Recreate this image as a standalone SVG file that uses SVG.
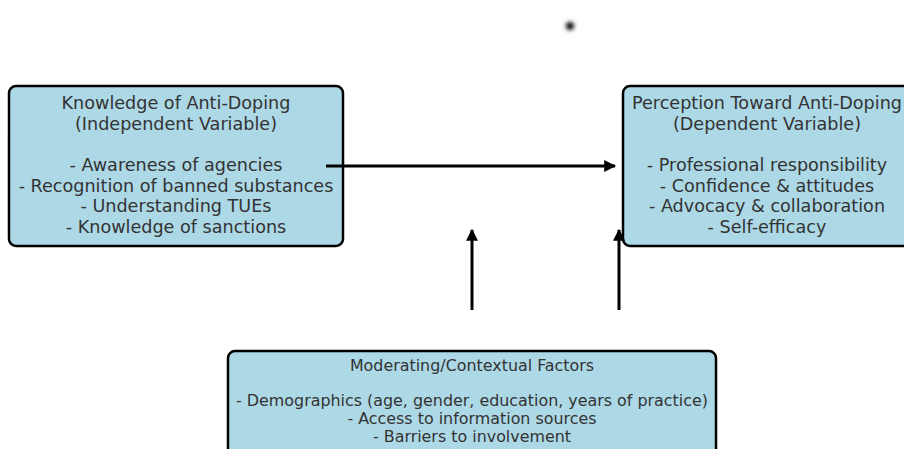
<svg xmlns="http://www.w3.org/2000/svg" width="904" height="449" viewBox="0 0 904 449">
<defs>
<style>
.box{fill:#add8e6;stroke:#000;stroke-width:2.5}
.t{font-family:"DejaVu Sans",sans-serif;fill:#333;text-anchor:middle}
.big{font-size:17.6px}
.small{font-size:15.9px}
.conn{stroke:#000;stroke-width:3;fill:none}
</style>
<marker id="ah" viewBox="0 0 10 10" refX="9" refY="5" markerWidth="4" markerHeight="4" orient="auto" markerUnits="strokeWidth">
<path d="M0,0 L10,5 L0,10 z" fill="#000"/>
</marker>
<filter id="blur" x="-1" y="-1" width="3" height="3"><feGaussianBlur stdDeviation="2"/></filter>
</defs>
<rect width="904" height="449" fill="#fff"/>
<circle cx="570" cy="26" r="4" fill="#000" filter="url(#blur)"/>
<g id="node-independent">
<rect class="box" x="9" y="86" width="334" height="160" rx="7"/>
<text class="t big"><tspan x="176" y="109">Knowledge of Anti-Doping</tspan><tspan x="176" y="130">(Independent Variable)</tspan><tspan x="176" y="171">- Awareness of agencies</tspan><tspan x="176" y="192">- Recognition of banned substances</tspan><tspan x="176" y="212">- Understanding TUEs</tspan><tspan x="176" y="233">- Knowledge of sanctions</tspan></text>
</g>
<g id="node-dependent">
<rect class="box" x="623" y="86" width="290" height="160" rx="7"/>
<text class="t big"><tspan x="767" y="109">Perception Toward Anti-Doping</tspan><tspan x="767" y="130">(Dependent Variable)</tspan><tspan x="767" y="171">- Professional responsibility</tspan><tspan x="767" y="192">- Confidence &amp; attitudes</tspan><tspan x="767" y="212">- Advocacy &amp; collaboration</tspan><tspan x="767" y="233">- Self-efficacy</tspan></text>
</g>
<g id="node-moderating">
<rect class="box" x="228" y="351" width="488" height="110" rx="7"/>
<text class="t small"><tspan x="472" y="371">Moderating/Contextual Factors</tspan><tspan x="472" y="406">- Demographics (age, gender, education, years of practice)</tspan><tspan x="472" y="424">- Access to information sources</tspan><tspan x="472" y="442">- Barriers to involvement</tspan></text>
</g>
<g id="connectors">
<line class="conn" x1="326" y1="166" x2="615" y2="166" marker-end="url(#ah)"/>
<line class="conn" x1="472" y1="310" x2="472" y2="230" marker-end="url(#ah)"/>
<line class="conn" x1="619" y1="310" x2="619" y2="230" marker-end="url(#ah)"/>
</g>
</svg>
